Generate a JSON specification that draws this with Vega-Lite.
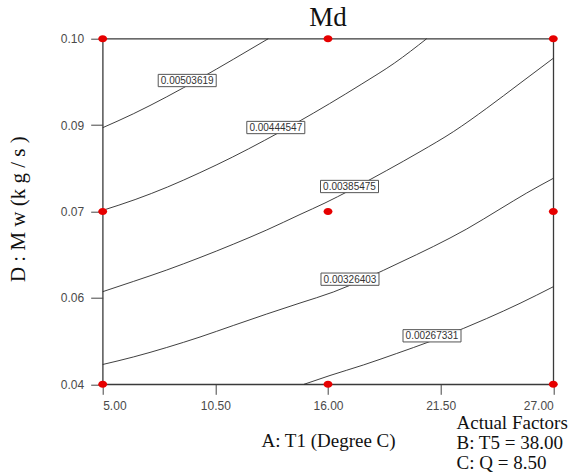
{
  "$schema": "https://vega.github.io/schema/vega-lite/v6.json",
  "width": 450.6,
  "height": 345.6,
  "autosize": {"type": "none"},
  "padding": {"left": 102.7, "top": 38.7, "right": 15.7, "bottom": 91.7},
  "background": "white",
  "title": {"text": "Md", "font": "Liberation Serif", "fontSize": 27, "fontWeight": "normal", "color": "#111111", "anchor": "middle", "frame": "group", "offset": 1},
  "config": {
    "view": {"stroke": "#3a3a3a", "strokeWidth": 1.3},
    "axis": {"domain": false, "grid": false, "tickColor": "#444444", "tickWidth": 1, "labelFont": "Liberation Sans", "labelFontSize": 12, "labelColor": "#4a4a4a", "titleFont": "Liberation Serif", "titleFontSize": 19, "titleFontWeight": "normal", "titleColor": "#111111"}
  },
  "datasets": {
    "contours": [
      {"level": "0.00503619", "x": 5.0, "y": 0.08455},
      {"level": "0.00503619", "x": 6.494, "y": 0.08696},
      {"level": "0.00503619", "x": 8.125, "y": 0.08991},
      {"level": "0.00503619", "x": 9.751, "y": 0.09309},
      {"level": "0.00503619", "x": 11.376, "y": 0.09642},
      {"level": "0.00503619", "x": 13.085, "y": 0.1},
      {"level": "0.00444547", "x": 5.0, "y": 0.0702},
      {"level": "0.00444547", "x": 6.582, "y": 0.07207},
      {"level": "0.00444547", "x": 8.164, "y": 0.07425},
      {"level": "0.00444547", "x": 9.746, "y": 0.07674},
      {"level": "0.00444547", "x": 11.328, "y": 0.07943},
      {"level": "0.00444547", "x": 12.909, "y": 0.08236},
      {"level": "0.00444547", "x": 14.491, "y": 0.08545},
      {"level": "0.00444547", "x": 16.073, "y": 0.08872},
      {"level": "0.00444547", "x": 17.655, "y": 0.09215},
      {"level": "0.00444547", "x": 19.237, "y": 0.09575},
      {"level": "0.00444547", "x": 20.819, "y": 0.1},
      {"level": "0.00385475", "x": 5.0, "y": 0.05608},
      {"level": "0.00385475", "x": 6.494, "y": 0.05785},
      {"level": "0.00385475", "x": 8.125, "y": 0.05984},
      {"level": "0.00385475", "x": 9.751, "y": 0.06201},
      {"level": "0.00385475", "x": 11.376, "y": 0.06432},
      {"level": "0.00385475", "x": 13.007, "y": 0.06679},
      {"level": "0.00385475", "x": 14.633, "y": 0.06948},
      {"level": "0.00385475", "x": 15.854, "y": 0.07148},
      {"level": "0.00385475", "x": 17.074, "y": 0.07368},
      {"level": "0.00385475", "x": 18.866, "y": 0.07712},
      {"level": "0.00385475", "x": 20.492, "y": 0.08038},
      {"level": "0.00385475", "x": 22.118, "y": 0.08385},
      {"level": "0.00385475", "x": 23.749, "y": 0.08792},
      {"level": "0.00385475", "x": 25.375, "y": 0.09226},
      {"level": "0.00385475", "x": 27.0, "y": 0.0966},
      {"level": "0.00326403", "x": 5.0, "y": 0.04344},
      {"level": "0.00326403", "x": 6.494, "y": 0.04474},
      {"level": "0.00326403", "x": 8.125, "y": 0.04639},
      {"level": "0.00326403", "x": 9.751, "y": 0.04821},
      {"level": "0.00326403", "x": 11.376, "y": 0.05021},
      {"level": "0.00326403", "x": 13.007, "y": 0.0522},
      {"level": "0.00326403", "x": 14.633, "y": 0.05411},
      {"level": "0.00326403", "x": 16.259, "y": 0.05602},
      {"level": "0.00326403", "x": 17.89, "y": 0.05845},
      {"level": "0.00326403", "x": 19.516, "y": 0.06115},
      {"level": "0.00326403", "x": 21.141, "y": 0.06392},
      {"level": "0.00326403", "x": 22.772, "y": 0.06696},
      {"level": "0.00326403", "x": 24.398, "y": 0.07043},
      {"level": "0.00326403", "x": 25.701, "y": 0.07321},
      {"level": "0.00326403", "x": 27.0, "y": 0.07576},
      {"level": "0.00267331", "x": 14.828, "y": 0.04},
      {"level": "0.00267331", "x": 16.098, "y": 0.04153},
      {"level": "0.00267331", "x": 17.723, "y": 0.04335},
      {"level": "0.00267331", "x": 19.354, "y": 0.04535},
      {"level": "0.00267331", "x": 20.98, "y": 0.04743},
      {"level": "0.00267331", "x": 22.606, "y": 0.04969},
      {"level": "0.00267331", "x": 23.748, "y": 0.05142},
      {"level": "0.00267331", "x": 25.375, "y": 0.05406},
      {"level": "0.00267331", "x": 27.0, "y": 0.05694}
    ],
    "labels": [
      {"label": "0.00503619", "x": 9.126, "y": 0.09274},
      {"label": "0.00444547", "x": 13.452, "y": 0.08458},
      {"label": "0.00385475", "x": 17.05, "y": 0.07434},
      {"label": "0.00326403", "x": 17.074, "y": 0.05825},
      {"label": "0.00267331", "x": 21.078, "y": 0.04842}
    ],
    "design": [
      {"x": 5, "y": 0.1}, {"x": 16, "y": 0.1}, {"x": 27, "y": 0.1},
      {"x": 5, "y": 0.07}, {"x": 16, "y": 0.07}, {"x": 27, "y": 0.07},
      {"x": 5, "y": 0.04}, {"x": 16, "y": 0.04}, {"x": 27, "y": 0.04}
    ],
    "factors": [
      {"text": "Actual Factors\nB: T5 = 38.00\nC: Q = 8.50", "x": 22.274, "y": 0.03224}
    ]
  },
  "layer": [
    {
      "data": {"name": "contours"},
      "mark": {"type": "line", "color": "#2a2a2a", "strokeWidth": 0.9, "interpolate": "monotone"},
      "encoding": {
        "x": {"field": "x", "type": "quantitative", "scale": {"domain": [5, 27], "nice": false, "zero": false},
              "axis": {"values": [5, 10.5, 16, 21.5, 27], "format": ".2f", "title": "A: T1  (Degree C)", "tickSize": 10, "labelPadding": 6, "titleBaseline": "alphabetic", "titleY": 62, "titleX": 225.3, "titleAnchor": "middle", "titleAlign": "center"}},
        "y": {"field": "y", "type": "quantitative", "scale": {"domain": [0.04, 0.1], "nice": false, "zero": false},
              "axis": {"values": [0.04, 0.055, 0.07, 0.085, 0.1], "format": ".2f", "title": "D : M w  (k g / s )", "titleFontSize": 21, "tickSize": 12, "labelPadding": 7, "titleAngle": -90, "titleX": -84, "titleY": 170, "titleAlign": "center", "titleBaseline": "middle"}},
        "detail": {"field": "level"}
      }
    },
    {
      "data": {"name": "labels"},
      "mark": {"type": "point", "shape": "M-1,-0.212H1V0.212H-1Z", "size": 3364, "filled": true, "fill": "white", "stroke": "#555555", "strokeWidth": 1, "opacity": 1},
      "encoding": {
        "x": {"field": "x", "type": "quantitative"},
        "y": {"field": "y", "type": "quantitative"}
      }
    },
    {
      "data": {"name": "labels"},
      "mark": {"type": "text", "font": "Liberation Sans", "fontSize": 10, "color": "#333333", "align": "center", "baseline": "middle", "dy": 0.5},
      "encoding": {
        "x": {"field": "x", "type": "quantitative"},
        "y": {"field": "y", "type": "quantitative"},
        "text": {"field": "label"}
      }
    },
    {
      "data": {"name": "design"},
      "mark": {"type": "point", "shape": "M-1,0A1,0.78 0 1,0 1,0A1,0.78 0 1,0 -1,0Z", "size": 80, "filled": true, "color": "#e60000", "opacity": 1},
      "encoding": {
        "x": {"field": "x", "type": "quantitative"},
        "y": {"field": "y", "type": "quantitative"}
      }
    },
    {
      "data": {"name": "factors"},
      "mark": {"type": "text", "font": "Liberation Serif", "fontSize": 19, "color": "#111111", "align": "left", "baseline": "alphabetic", "lineBreak": "\n", "lineHeight": 20},
      "encoding": {
        "x": {"field": "x", "type": "quantitative"},
        "y": {"field": "y", "type": "quantitative"},
        "text": {"field": "text"}
      }
    }
  ]
}
